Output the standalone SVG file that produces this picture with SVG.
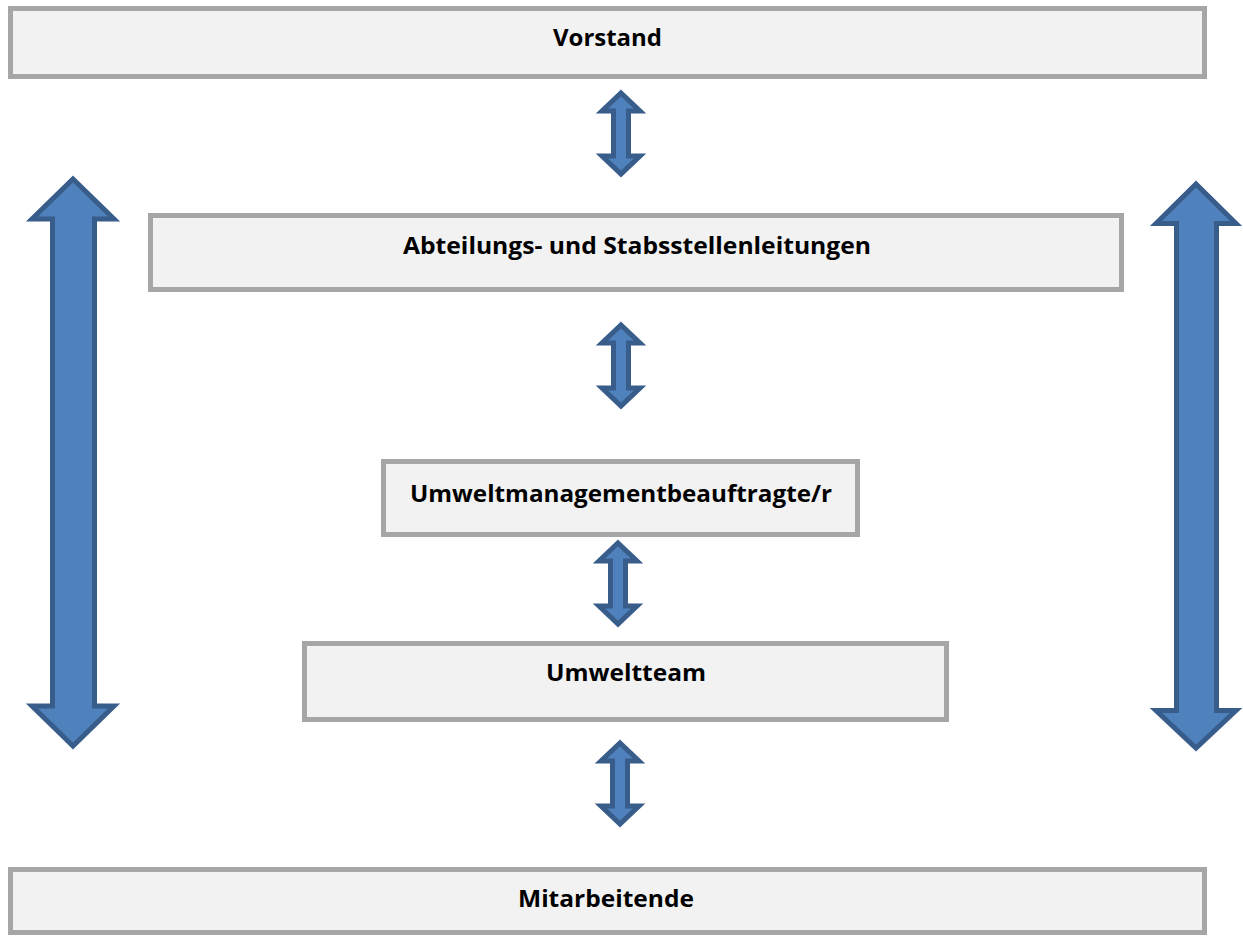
<svg xmlns="http://www.w3.org/2000/svg" xmlns:xlink="http://www.w3.org/1999/xlink" width="1243" height="937" viewBox="0 0 1243 937">
<style>
.box{fill:#f2f2f2;stroke:#a6a6a6;stroke-width:5}
.lbl{font-family:"Open Sans","Noto Sans","Liberation Sans",sans-serif;font-weight:bold;font-size:23px;fill:#000}
.arr{fill:#4f81bd;stroke:#385d8a;stroke-width:5;stroke-linejoin:miter}
.sarr{fill:#4f81bd;stroke:#385d8a;stroke-width:5;stroke-linejoin:miter}
</style>
<defs>
<path id="dbl" d="M0,3 L19,21 L7.5,21 L7.5,66 L19,66 L0,84 L-19,66 L-7.5,66 L-7.5,21 L-19,21 Z"/>
</defs>
<rect width="1243" height="937" fill="#ffffff"/>
<g id="node-vorstand">
<rect class="box" x="10.5" y="8.5" width="1194" height="68"/>
<text class="lbl" x="553" y="46" textLength="109" lengthAdjust="spacingAndGlyphs">Vorstand</text>
</g>
<g id="node-abteilungen">
<rect class="box" x="150.5" y="215.5" width="971" height="74"/>
<text class="lbl" x="403" y="254" textLength="468" lengthAdjust="spacingAndGlyphs">Abteilungs- und Stabsstellenleitungen</text>
</g>
<g id="node-umb">
<rect class="box" x="383.5" y="461.5" width="474" height="73"/>
<text class="lbl" x="410" y="502" textLength="422" lengthAdjust="spacingAndGlyphs">Umweltmanagementbeauftragte/r</text>
</g>
<g id="node-umweltteam">
<rect class="box" x="304.5" y="643.5" width="642" height="76"/>
<text class="lbl" x="546" y="681" textLength="160" lengthAdjust="spacingAndGlyphs">Umweltteam</text>
</g>
<g id="node-mitarbeitende">
<rect class="box" x="10.5" y="869.5" width="1194" height="63"/>
<text class="lbl" x="518" y="907" textLength="176" lengthAdjust="spacingAndGlyphs">Mitarbeitende</text>
</g>
<g id="connectors">
<use xlink:href="#dbl" class="sarr" transform="translate(621,90)"/>
<use xlink:href="#dbl" class="sarr" transform="translate(621,322)"/>
<use xlink:href="#dbl" class="sarr" transform="translate(618,540)"/>
<use xlink:href="#dbl" class="sarr" transform="translate(620,740)"/>
<path class="arr" d="M73,179 L114,219 L94.5,219 L94.5,706 L114,706 L73,746 L32,706 L52.5,706 L52.5,219 L32,219 Z"/>
<path class="arr" d="M1196,184 L1236,223.5 L1216.5,223.5 L1216.5,710.5 L1236,710.5 L1196,748 L1156,710.5 L1176.5,710.5 L1176.5,223.5 L1156,223.5 Z"/>
</g>
</svg>
